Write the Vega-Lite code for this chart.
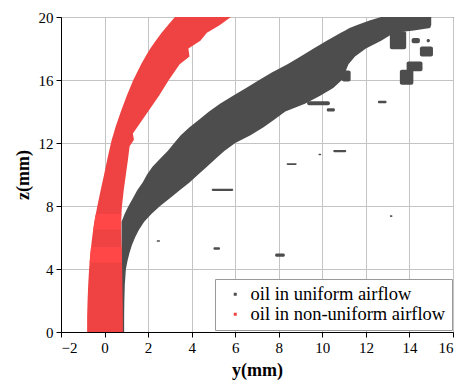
{
  "$schema": "https://vega.github.io/schema/vega-lite/v6.json",
  "width": 392,
  "height": 315,
  "autosize": {"type": "none"},
  "padding": {"left": 61, "top": 17, "right": 8, "bottom": 53},
  "background": "white",
  "config": {
    "view": {"stroke": "black", "strokeWidth": 1},
    "axis": {
      "labelFont": "Liberation Serif",
      "labelFontSize": 15,
      "labelColor": "black",
      "titleFont": "Liberation Serif",
      "titleFontSize": 18,
      "titleFontWeight": "bold",
      "titleColor": "black",
      "domainColor": "black",
      "tickColor": "black",
      "labelPadding": 3
    },
    "legend": {
      "orient": "none",
      "legendX": 154,
      "legendY": 262,
      "direction": "vertical",
      "strokeColor": "#999999",
      "fillColor": "white",
      "padding": 6,
      "labelFont": "Liberation Serif",
      "labelFontSize": 18.5,
      "labelColor": "black",
      "symbolType": "square",
      "symbolSize": 9,
      "symbolOffset": 5,
      "labelOffset": 6,
      "rowPadding": 1,
      "title": null,
      "labelLimit": 400
    }
  },
  "datasets": {
    "darkBand": [
      {"series": "oil in uniform airflow", "z": 0, "left": 0.78, "right": 0.9},
      {"series": "oil in uniform airflow", "z": 1, "left": 0.78, "right": 0.9},
      {"series": "oil in uniform airflow", "z": 2, "left": 0.78, "right": 0.91},
      {"series": "oil in uniform airflow", "z": 3, "left": 0.78, "right": 0.93},
      {"series": "oil in uniform airflow", "z": 4, "left": 0.78, "right": 0.98},
      {"series": "oil in uniform airflow", "z": 4.5, "left": 0.78, "right": 1.05},
      {"series": "oil in uniform airflow", "z": 5, "left": 0.78, "right": 1.14},
      {"series": "oil in uniform airflow", "z": 5.5, "left": 0.78, "right": 1.25},
      {"series": "oil in uniform airflow", "z": 6, "left": 0.78, "right": 1.4},
      {"series": "oil in uniform airflow", "z": 6.5, "left": 0.78, "right": 1.58},
      {"series": "oil in uniform airflow", "z": 7, "left": 0.78, "right": 1.82},
      {"series": "oil in uniform airflow", "z": 7.5, "left": 0.92, "right": 2.15},
      {"series": "oil in uniform airflow", "z": 8, "left": 1.1, "right": 2.55},
      {"series": "oil in uniform airflow", "z": 8.5, "left": 1.3, "right": 3.0},
      {"series": "oil in uniform airflow", "z": 9, "left": 1.5, "right": 3.45},
      {"series": "oil in uniform airflow", "z": 9.5, "left": 1.75, "right": 3.9},
      {"series": "oil in uniform airflow", "z": 10, "left": 1.95, "right": 4.3},
      {"series": "oil in uniform airflow", "z": 10.5, "left": 2.2, "right": 4.7},
      {"series": "oil in uniform airflow", "z": 11, "left": 2.55, "right": 5.1},
      {"series": "oil in uniform airflow", "z": 11.5, "left": 2.9, "right": 5.5},
      {"series": "oil in uniform airflow", "z": 12, "left": 3.2, "right": 6.0},
      {"series": "oil in uniform airflow", "z": 12.5, "left": 3.5, "right": 6.7},
      {"series": "oil in uniform airflow", "z": 13, "left": 3.9, "right": 7.3},
      {"series": "oil in uniform airflow", "z": 13.5, "left": 4.35, "right": 7.8},
      {"series": "oil in uniform airflow", "z": 14, "left": 4.8, "right": 8.3},
      {"series": "oil in uniform airflow", "z": 14.5, "left": 5.3, "right": 9.2},
      {"series": "oil in uniform airflow", "z": 15, "left": 5.9, "right": 9.9},
      {"series": "oil in uniform airflow", "z": 15.5, "left": 6.5, "right": 10.5},
      {"series": "oil in uniform airflow", "z": 16, "left": 7.1, "right": 10.9},
      {"series": "oil in uniform airflow", "z": 16.5, "left": 7.7, "right": 11.05},
      {"series": "oil in uniform airflow", "z": 17, "left": 8.4, "right": 11.2},
      {"series": "oil in uniform airflow", "z": 17.5, "left": 9.0, "right": 11.5},
      {"series": "oil in uniform airflow", "z": 18, "left": 9.6, "right": 12.0},
      {"series": "oil in uniform airflow", "z": 18.5, "left": 10.2, "right": 12.7},
      {"series": "oil in uniform airflow", "z": 19, "left": 10.85, "right": 13.3},
      {"series": "oil in uniform airflow", "z": 19.15, "left": 11.05, "right": 14.2},
      {"series": "oil in uniform airflow", "z": 19.3, "left": 11.25, "right": 14.95},
      {"series": "oil in uniform airflow", "z": 19.5, "left": 11.6, "right": 15.0},
      {"series": "oil in uniform airflow", "z": 19.8, "left": 12.2, "right": 15.0},
      {"series": "oil in uniform airflow", "z": 20, "left": 12.7, "right": 15.0}
    ],
    "blobs": [
      {"series": "oil in uniform airflow", "x1": 13.1, "x2": 13.85, "z1": 17.95, "z2": 19.1},
      {"series": "oil in uniform airflow", "x1": 13.87, "x2": 14.6, "z1": 16.55, "z2": 17.18},
      {"series": "oil in uniform airflow", "x1": 13.56, "x2": 14.18, "z1": 15.7, "z2": 16.65},
      {"series": "oil in uniform airflow", "x1": 14.1, "x2": 14.48, "z1": 18.34, "z2": 18.66},
      {"series": "oil in uniform airflow", "x1": 14.48, "x2": 15.08, "z1": 17.5, "z2": 18.13},
      {"series": "oil in uniform airflow", "x1": 14.79, "x2": 14.94, "z1": 18.4, "z2": 18.6},
      {"series": "oil in uniform airflow", "x1": 12.27, "x2": 12.5, "z1": 18.38, "z2": 18.52},
      {"series": "oil in uniform airflow", "x1": 12.55, "x2": 12.95, "z1": 14.52, "z2": 14.68},
      {"series": "oil in uniform airflow", "x1": 10.5, "x2": 11.1, "z1": 11.42, "z2": 11.56},
      {"series": "oil in uniform airflow", "x1": 9.82, "x2": 9.95, "z1": 11.22, "z2": 11.32},
      {"series": "oil in uniform airflow", "x1": 8.36, "x2": 8.82, "z1": 10.6, "z2": 10.72},
      {"series": "oil in uniform airflow", "x1": 4.92, "x2": 5.91, "z1": 8.96, "z2": 9.1},
      {"series": "oil in uniform airflow", "x1": 5.0, "x2": 5.3, "z1": 5.22, "z2": 5.38},
      {"series": "oil in uniform airflow", "x1": 7.83, "x2": 8.28, "z1": 4.78, "z2": 4.98},
      {"series": "oil in uniform airflow", "x1": 2.39, "x2": 2.55, "z1": 5.73, "z2": 5.83},
      {"series": "oil in uniform airflow", "x1": 10.2, "x2": 10.58, "z1": 14.0, "z2": 14.2},
      {"series": "oil in uniform airflow", "x1": 9.3, "x2": 10.35, "z1": 14.4, "z2": 14.65},
      {"series": "oil in uniform airflow", "x1": 10.9, "x2": 11.3, "z1": 15.9, "z2": 16.6},
      {"series": "oil in uniform airflow", "x1": 13.1, "x2": 13.22, "z1": 7.3, "z2": 7.42}
    ],
    "redBand": [
      {"series": "oil in non-uniform airflow", "z": 0, "left": -0.8, "right": 0.84},
      {"series": "oil in non-uniform airflow", "z": 1, "left": -0.8, "right": 0.84},
      {"series": "oil in non-uniform airflow", "z": 2, "left": -0.78, "right": 0.83},
      {"series": "oil in non-uniform airflow", "z": 3, "left": -0.75, "right": 0.82},
      {"series": "oil in non-uniform airflow", "z": 4, "left": -0.71, "right": 0.81},
      {"series": "oil in non-uniform airflow", "z": 5, "left": -0.65, "right": 0.79},
      {"series": "oil in non-uniform airflow", "z": 6, "left": -0.57, "right": 0.77},
      {"series": "oil in non-uniform airflow", "z": 7, "left": -0.47, "right": 0.75},
      {"series": "oil in non-uniform airflow", "z": 8, "left": -0.33, "right": 0.8},
      {"series": "oil in non-uniform airflow", "z": 9, "left": -0.18, "right": 0.88},
      {"series": "oil in non-uniform airflow", "z": 10, "left": -0.02, "right": 0.98},
      {"series": "oil in non-uniform airflow", "z": 11, "left": 0.13, "right": 1.08},
      {"series": "oil in non-uniform airflow", "z": 11.8, "left": 0.26, "right": 1.15},
      {"series": "oil in non-uniform airflow", "z": 12.2, "left": 0.33, "right": 1.35},
      {"series": "oil in non-uniform airflow", "z": 12.6, "left": 0.42, "right": 1.3},
      {"series": "oil in non-uniform airflow", "z": 13, "left": 0.5, "right": 1.5},
      {"series": "oil in non-uniform airflow", "z": 14, "left": 0.75, "right": 2.0},
      {"series": "oil in non-uniform airflow", "z": 15, "left": 1.02, "right": 2.5},
      {"series": "oil in non-uniform airflow", "z": 16, "left": 1.32, "right": 2.95},
      {"series": "oil in non-uniform airflow", "z": 17, "left": 1.68, "right": 3.45},
      {"series": "oil in non-uniform airflow", "z": 17.5, "left": 1.88, "right": 3.9},
      {"series": "oil in non-uniform airflow", "z": 18, "left": 2.1, "right": 3.85},
      {"series": "oil in non-uniform airflow", "z": 18.5, "left": 2.35, "right": 4.4},
      {"series": "oil in non-uniform airflow", "z": 19, "left": 2.62, "right": 4.7},
      {"series": "oil in non-uniform airflow", "z": 19.5, "left": 2.92, "right": 5.3},
      {"series": "oil in non-uniform airflow", "z": 20, "left": 3.23, "right": 5.8}
    ],
    "redStripes": [
      {"stripe": "a", "z": 4.4, "left": -0.69, "right": 0.8},
      {"stripe": "a", "z": 5.4, "left": -0.62, "right": 0.785},
      {"stripe": "b", "z": 6.5, "left": -0.52, "right": 0.76},
      {"stripe": "b", "z": 7.5, "left": -0.4, "right": 0.77}
    ]
  },
  "layer": [
    {
      "data": {"name": "darkBand"},
      "mark": {"type": "area", "orient": "horizontal", "clip": true},
      "encoding": {
        "y": {
          "field": "z", "type": "quantitative",
          "scale": {"domain": [0, 20], "nice": false},
          "axis": {
            "title": "z(mm)",
            "values": [0,1,2,3,4,5,6,7,8,9,10,11,12,13,14,15,16,17,18,19,20],
            "labelExpr": "datum.value % 2 === 0 ? datum.label : ''",
            "tickSize": {"condition": {"test": "datum.value % 2 !== 0", "value": 3}, "value": 5},
            "grid": true,
            "gridColor": {"condition": {"test": "datum.value % 2 !== 0", "value": "#dddddd"}, "value": "#c4c4c4"},
            "gridDash": {"condition": {"test": "datum.value % 2 !== 0", "value": [2, 2]}, "value": []},
            "titlePadding": 6
          }
        },
        "x": {
          "field": "left", "type": "quantitative",
          "scale": {"domain": [-2, 16], "nice": false},
          "axis": {
            "title": "y(mm)",
            "values": [-2,-1,0,1,2,3,4,5,6,7,8,9,10,11,12,13,14,15,16],
            "labelExpr": "datum.value % 2 === 0 ? datum.label : ''",
            "tickSize": {"condition": {"test": "datum.value % 2 !== 0", "value": 3}, "value": 5},
            "grid": true,
            "gridColor": {"condition": {"test": "datum.value % 2 !== 0", "value": "#dddddd"}, "value": "#c4c4c4"},
            "gridDash": {"condition": {"test": "datum.value % 2 !== 0", "value": [2, 2]}, "value": []},
            "titlePadding": 6
          }
        },
        "x2": {"field": "right"},
        "color": {
          "field": "series", "type": "nominal",
          "scale": {"domain": ["oil in uniform airflow", "oil in non-uniform airflow"], "range": ["#4d4d4d", "#ef4242"]}
        }
      }
    },
    {
      "data": {"name": "blobs"},
      "mark": {"type": "rect", "cornerRadius": 2},
      "encoding": {
        "x": {"field": "x1", "type": "quantitative"},
        "x2": {"field": "x2"},
        "y": {"field": "z1", "type": "quantitative"},
        "y2": {"field": "z2"},
        "color": {"field": "series", "type": "nominal"}
      }
    },
    {
      "data": {"name": "redBand"},
      "mark": {"type": "area", "orient": "horizontal", "clip": true},
      "encoding": {
        "y": {"field": "z", "type": "quantitative"},
        "x": {"field": "left", "type": "quantitative"},
        "x2": {"field": "right"},
        "color": {"field": "series", "type": "nominal"}
      }
    },
    {
      "data": {"name": "redStripes"},
      "mark": {"type": "area", "orient": "horizontal", "color": "#ff4747"},
      "encoding": {
        "y": {"field": "z", "type": "quantitative"},
        "x": {"field": "left", "type": "quantitative"},
        "x2": {"field": "right"},
        "detail": {"field": "stripe", "type": "nominal"}
      }
    }
  ]
}
